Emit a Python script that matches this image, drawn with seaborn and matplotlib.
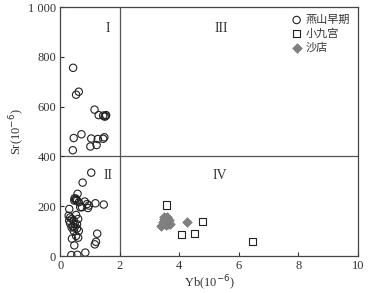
import pandas as pd
import seaborn as sns
import matplotlib.pyplot as plt

# 燕山早期 (circles)
yanshan_yb = [0.43, 0.53, 0.62, 1.15, 1.29, 1.44, 1.52, 1.54, 1.49, 0.45, 0.71, 1.04, 1.26, 1.44, 1.48,
              0.42, 1.01, 1.22,
              1.04, 0.75, 0.58, 0.48, 0.51, 0.53, 0.56, 0.47, 0.62, 0.82, 0.90, 0.96, 0.93, 1.18, 1.46,
              0.30, 0.67, 0.73, 0.28, 0.33, 0.39, 0.30, 0.45, 0.53, 0.60, 0.33, 0.48, 0.56, 0.42, 0.38,
              0.48, 0.56, 0.62, 0.45, 0.53, 0.39, 0.60, 0.47, 1.24, 1.20, 1.16, 0.37, 0.57, 0.84]
yanshan_sr = [756, 648, 660, 588, 566, 564, 562, 566, 560, 474, 489, 472, 470, 471, 477,
              425, 440, 446,
              335, 295, 250, 232, 226, 230, 223, 223, 216, 219, 209, 203, 193, 212, 207,
              189, 196, 196, 162, 155, 149, 142, 142, 165, 149, 131, 128, 128, 119, 115,
              115, 111, 101, 101, 81, 70, 74, 43, 90, 57, 47, 4, 5, 14]

# 小九宫 (squares)
xjg_yb = [3.58, 4.77, 4.08, 4.51, 6.47]
xjg_sr = [205, 138, 87, 91, 57]

# 沙店 (diamonds)
sd_yb = [3.40, 3.45, 3.50, 3.55, 3.60, 3.65, 3.70, 3.55, 3.48, 3.62, 4.25]
sd_sr = [120, 135, 150, 140, 155, 145, 130, 125, 158, 128, 138]

df1 = pd.DataFrame({"Yb": yanshan_yb, "Sr": yanshan_sr})
df2 = pd.DataFrame({"Yb": xjg_yb, "Sr": xjg_sr})
df3 = pd.DataFrame({"Yb": sd_yb, "Sr": sd_sr})

sns.set_style("ticks")
plt.rcParams["font.family"] = ["Liberation Serif", "Noto Sans CJK SC"]

fig = plt.figure(figsize=(3.77, 2.93), dpi=100)
ax = fig.add_axes([0.16, 0.126, 0.789, 0.85])

sns.scatterplot(data=df1, x="Yb", y="Sr", marker="o", s=28, facecolor="none",
                edgecolor="#222222", linewidth=0.8, ax=ax, label="燕山早期")
sns.scatterplot(data=df2, x="Yb", y="Sr", marker="s", s=26, facecolor="none",
                edgecolor="#222222", linewidth=0.8, ax=ax, label="小九宫")
sns.scatterplot(data=df3, x="Yb", y="Sr", marker="D", s=24, color="#7f7f7f",
                edgecolor="#7f7f7f", linewidth=0.5, ax=ax, label="沙店")

ax.axvline(2, color="#555555", lw=0.9, zorder=0)
ax.axhline(400, color="#555555", lw=0.9, zorder=0)

ax.set_xlim(0, 10)
ax.set_ylim(0, 1000)
ax.set_xticks([0, 2, 4, 6, 8, 10])
ax.set_yticks([0, 200, 400, 600, 800, 1000])
ax.set_yticklabels(["0", "200", "400", "600", "800", "1 000"])
ax.tick_params(direction="in", length=3, width=0.8, labelsize=9, colors="#333333", pad=3)
for sp in ax.spines.values():
    sp.set_color("#444444")
    sp.set_linewidth(0.9)

ax.set_xlabel("Yb(10$^{-6}$)", fontsize=9, color="#333333", labelpad=1)
ax.set_ylabel("Sr(10$^{-6}$)", fontsize=9, color="#333333", labelpad=1)

for txt, xx, yy in [("I", 1.6, 915), ("III", 5.4, 915), ("II", 1.6, 325), ("IV", 5.35, 325)]:
    ax.text(xx, yy, txt, fontsize=10, color="#333333", ha="center", va="center")

leg = ax.legend(loc="upper right", frameon=False, fontsize=8, handletextpad=0.2,
                borderaxespad=0.3, labelspacing=0.3, handlelength=1.2,
                prop={"family": ["Noto Sans CJK SC"], "size": 8})
for t in leg.get_texts():
    t.set_color("#333333")

fig.savefig("out.png", dpi=100)
